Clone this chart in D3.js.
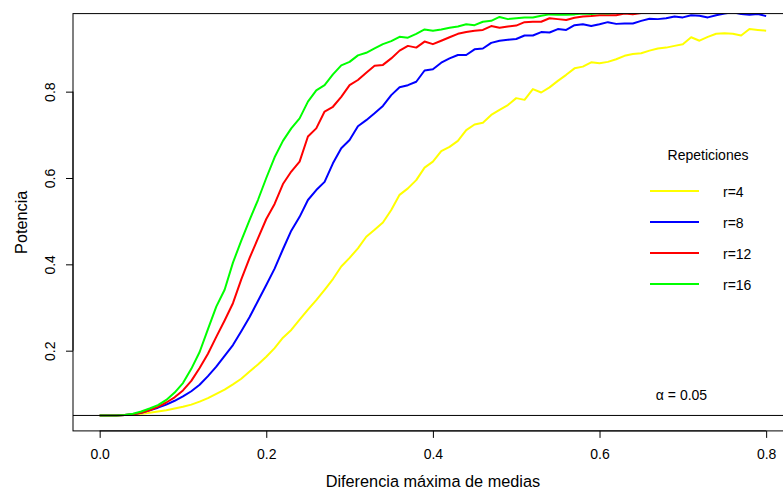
<!DOCTYPE html>
<html>
<head>
<meta charset="utf-8">
<script src="https://cdn.jsdelivr.net/npm/d3@7"></script>
<style>
    body { margin: 0; background: white; }
    text { font-family: 'Liberation Sans', Arial, Helvetica, sans-serif; fill: #000; }
</style>
</head>
<body>
<script>
// diferencia maxima de medias (eje x)
const diffs = [0.00,0.01,0.02,0.03,0.04,0.05,0.06,0.07,0.08,0.09,
    0.10,0.11,0.12,0.13,0.14,0.15,0.16,0.17,0.18,0.19,
    0.20,0.21,0.22,0.23,0.24,0.25,0.26,0.27,0.28,0.29,
    0.30,0.31,0.32,0.33,0.34,0.35,0.36,0.37,0.38,0.39,
    0.40,0.41,0.42,0.43,0.44,0.45,0.46,0.47,0.48,0.49,
    0.50,0.51,0.52,0.53,0.54,0.55,0.56,0.57,0.58,0.59,
    0.60,0.61,0.62,0.63,0.64,0.65,0.66,0.67,0.68,0.69,
    0.70,0.71,0.72,0.73,0.74,0.75,0.76,0.77,0.78,0.79,0.80]

const r4 = [0.050,0.050,0.050,0.051,0.052,0.054,0.056,0.059,0.062,0.066,
    0.070,0.075,0.082,0.090,0.100,0.110,0.122,0.135,0.152,0.168,
    0.186,0.206,0.230,0.248,0.272,0.295,0.317,0.341,0.366,0.395,
    0.415,0.437,0.464,0.480,0.497,0.526,0.561,0.576,0.595,0.624,
    0.638,0.662,0.672,0.686,0.711,0.724,0.728,0.746,0.758,0.769,
    0.785,0.781,0.806,0.798,0.810,0.825,0.839,0.854,0.858,0.868,
    0.866,0.869,0.875,0.883,0.887,0.889,0.895,0.900,0.902,0.906,
    0.910,0.926,0.918,0.927,0.934,0.935,0.934,0.930,0.945,0.943,0.941]

const r8 = [0.050,0.050,0.050,0.051,0.053,0.056,0.062,0.068,0.075,0.084,
    0.094,0.106,0.121,0.141,0.163,0.188,0.213,0.245,0.278,0.315,
    0.352,0.390,0.435,0.478,0.510,0.549,0.572,0.591,0.634,0.669,
    0.688,0.720,0.734,0.750,0.767,0.792,0.810,0.815,0.823,0.849,
    0.852,0.867,0.877,0.885,0.885,0.898,0.900,0.913,0.918,0.920,
    0.922,0.930,0.930,0.938,0.937,0.945,0.943,0.954,0.956,0.952,
    0.956,0.961,0.957,0.958,0.958,0.964,0.969,0.968,0.970,0.974,
    0.972,0.977,0.976,0.972,0.977,0.981,0.984,0.980,0.978,0.980,0.975]

const r12 = [0.050,0.050,0.050,0.051,0.053,0.056,0.062,0.070,0.080,0.092,
    0.108,0.130,0.160,0.193,0.232,0.270,0.310,0.365,0.415,0.460,
    0.505,0.540,0.586,0.615,0.638,0.696,0.715,0.754,0.765,0.788,
    0.815,0.827,0.844,0.860,0.862,0.877,0.895,0.906,0.902,0.916,
    0.910,0.918,0.926,0.934,0.938,0.941,0.943,0.952,0.948,0.951,
    0.953,0.961,0.962,0.962,0.970,0.968,0.966,0.971,0.974,0.975,
    0.977,0.977,0.977,0.981,0.979,0.982,0.984,0.983,0.986,0.984,
    0.988,0.990,0.988,0.991,0.992,0.991,0.993,0.994,0.993,0.995,0.995]

const r16 = [0.050,0.050,0.050,0.051,0.054,0.059,0.066,0.074,0.086,0.103,
    0.125,0.158,0.197,0.250,0.302,0.341,0.404,0.455,0.503,0.549,
    0.600,0.648,0.686,0.715,0.738,0.777,0.803,0.815,0.840,0.861,
    0.869,0.884,0.890,0.900,0.910,0.917,0.927,0.925,0.934,0.944,
    0.941,0.944,0.948,0.951,0.956,0.954,0.962,0.964,0.973,0.968,
    0.970,0.972,0.972,0.976,0.979,0.978,0.978,0.979,0.981,0.980,
    0.982,0.981,0.984,0.986,0.985,0.988,0.989,0.988,0.990,0.991,
    0.992,0.993,0.992,0.994,0.995,0.994,0.996,0.996,0.997,0.997,0.998]

const seriesNames = ['r=4', 'r=8', 'r=12', 'r=16']
const seriesColors = ['#ffff00', '#0000ff', '#ff0000', '#00ff00']
const seriesValues = [r4, r8, r12, r16]

const xTicks = [0.0, 0.2, 0.4, 0.6, 0.8]
const yTicks = [0.2, 0.4, 0.6, 0.8]
const alpha = 0.05

const width = 783
const height = 490
const plot = { left: 73, top: 13.6, right: 792.8, bottom: 430.9 }

const svg = d3.select('body').append('svg')
    .attr('width', width)
    .attr('height', height)

// como R: rango de la primera serie + 4% a cada lado
const xExt = d3.extent(diffs)
const yExt = d3.extent(r4)
const xPad = (xExt[1] - xExt[0]) * 0.04
const yPad = (yExt[1] - yExt[0]) * 0.04

const xScale = d3.scaleLinear()
    .domain([xExt[0] - xPad, xExt[1] + xPad])
    .range([plot.left, plot.right])

const yScale = d3.scaleLinear()
    .domain([yExt[0] - yPad, yExt[1] + yPad])
    .range([plot.bottom, plot.top])

svg.append('clipPath')
    .attr('id', 'plotClip')
    .append('rect')
    .attr('x', plot.left)
    .attr('y', plot.top)
    .attr('width', plot.right - plot.left)
    .attr('height', plot.bottom - plot.top)

const line = d3.line()
    .x((d, i) => xScale(diffs[i]))
    .y(d => yScale(d))

const curves = svg.append('g').attr('clip-path', 'url(#plotClip)')

curves.selectAll('.curve')
    .data(seriesValues)
    .enter().append('path')
    .attr('class', 'curve')
    .attr('d', d => line(d))
    .style('fill', 'none')
    .style('stroke', (d, i) => seriesColors[i])
    .style('stroke-width', 2)
    .style('stroke-linejoin', 'round')

curves.append('line')
    .attr('x1', plot.left)
    .attr('x2', plot.right)
    .attr('y1', yScale(alpha))
    .attr('y2', yScale(alpha))
    .style('stroke', 'black')
    .style('stroke-width', 1)

// caja
svg.append('rect')
    .attr('x', plot.left)
    .attr('y', plot.top)
    .attr('width', plot.right - plot.left)
    .attr('height', plot.bottom - plot.top)
    .style('fill', 'none')
    .style('stroke', 'black')
    .style('stroke-width', 1)

const xAxis = svg.append('g')
    .attr('class', 'x axis')
    .attr('transform', `translate(0, ${plot.bottom})`)
    .call(d3.axisBottom(xScale).tickValues(xTicks).tickFormat(d3.format('.1f')).tickSize(7).tickSizeOuter(0))
xAxis.select('.domain').remove()
xAxis.append('line')
    .attr('x1', xScale(xTicks[0]))
    .attr('x2', xScale(xTicks[xTicks.length - 1]))
    .style('stroke', 'black')
xAxis.selectAll('.tick text')
    .attr('y', 28.4)
    .attr('dy', 0)
    .style('font-size', '14px')
    .style('fill', '#000')

const yAxis = svg.append('g')
    .attr('class', 'y axis')
    .attr('transform', `translate(${plot.left}, 0)`)
    .call(d3.axisLeft(yScale).tickValues(yTicks).tickFormat(d3.format('.1f')).tickSize(7).tickSizeOuter(0))
yAxis.select('.domain').remove()
yAxis.append('line')
    .attr('y1', yScale(yTicks[0]))
    .attr('y2', yScale(yTicks[yTicks.length - 1]))
    .style('stroke', 'black')
yAxis.selectAll('.tick text')
    .attr('transform', 'rotate(-90)')
    .attr('x', 0)
    .attr('y', -18)
    .attr('dy', 0)
    .style('text-anchor', 'middle')
    .style('font-size', '14px')
    .style('fill', '#000')

svg.append('text')
    .attr('x', (plot.left + plot.right) / 2)
    .attr('y', 487)
    .style('text-anchor', 'middle')
    .style('font-size', '16.3px')
    .text('Diferencia máxima de medias')

svg.append('text')
    .attr('transform', `translate(26.5, ${(plot.top + plot.bottom) / 2}) rotate(-90)`)
    .style('text-anchor', 'middle')
    .style('font-size', '16.3px')
    .text('Potencia')

// leyenda
const legend = svg.append('g').attr('class', 'legend')
legend.append('text')
    .attr('x', 708)
    .attr('y', 159.5)
    .style('text-anchor', 'middle')
    .style('font-size', '14px')
    .text('Repeticiones')

const items = legend.selectAll('.item')
    .data(seriesNames)
    .enter().append('g')
    .attr('class', 'item')
    .attr('transform', (d, i) => `translate(0, ${191 + i * 31})`)
items.append('line')
    .attr('x1', 650)
    .attr('x2', 699)
    .style('stroke', (d, i) => seriesColors[i])
    .style('stroke-width', 2)
items.append('text')
    .attr('x', 723)
    .attr('y', 5.5)
    .style('font-size', '14px')
    .text(d => d)

svg.append('text')
    .attr('x', 681.5)
    .attr('y', 399.5)
    .style('text-anchor', 'middle')
    .style('font-size', '14px')
    .text('α = 0.05')
</script>
</body>
</html>
